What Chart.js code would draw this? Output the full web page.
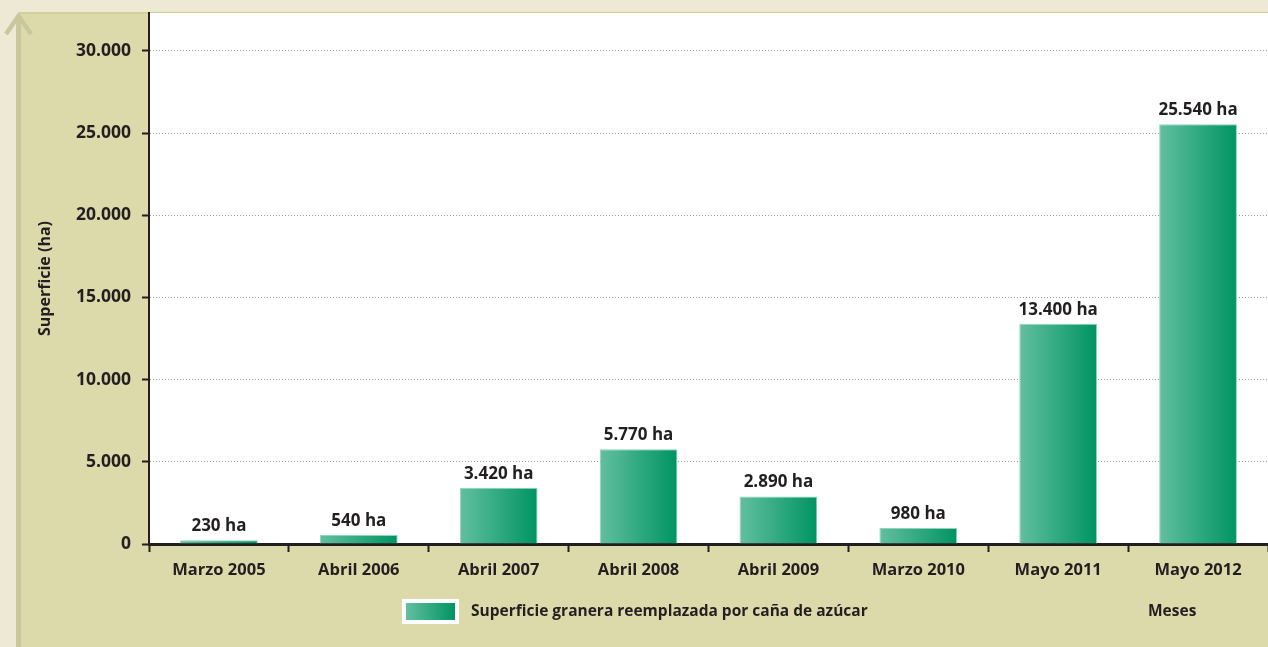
<!DOCTYPE html>
<html>
<head>
<meta charset="utf-8">
<script src="https://cdn.jsdelivr.net/npm/chart.js@4.4.0/dist/chart.umd.min.js"></script>
<style>
html,body{margin:0;padding:0;background:#eee9d5;}
canvas{display:block;}
</style>
</head>
<body>
<canvas id="c" width="1268" height="647"></canvas>
<script>
const categories = ["Marzo 2005","Abril 2006","Abril 2007","Abril 2008","Abril 2009","Marzo 2010","Mayo 2011","Mayo 2012"];
const values = [230, 540, 3420, 5770, 2890, 980, 13400, 25540];
const seriesLabel = "Superficie granera reemplazada por caña de azúcar";
const yTitle = "Superficie (ha)";
const xTitle = "Meses";
const yTickValues = [0, 5000, 10000, 15000, 20000, 25000, 30000];

const FONT = "'Open Sans', 'DejaVu Sans', sans-serif";
const TEXT = "#231f20";
const GL = "#62bf9f", GR = "#009462";

function fmt(v){ return String(v).replace(/\B(?=(\d{3})+(?!\d))/g, "."); }

const bgPlugin = {
  id: "bg",
  beforeDraw(chart){
    const ctx = chart.ctx, W = chart.width, H = chart.height, a = chart.chartArea;
    ctx.save();
    ctx.fillStyle = "#eee9d5";
    ctx.fillRect(0,0,W,H);
    ctx.fillStyle = "#dcd9ab";
    ctx.fillRect(19,13,W-19,H-13);
    ctx.fillStyle = "#d2cf9f";
    ctx.fillRect(19,12,W-19,2);
    ctx.fillStyle = "#ffffff";
    ctx.fillRect(a.left, a.top, a.right-a.left, a.bottom-a.top);
    ctx.strokeStyle = "#c9c79d";
    ctx.lineWidth = 5;
    ctx.beginPath();
    ctx.moveTo(18.5, 16); ctx.lineTo(18.5, H);
    ctx.stroke();
    ctx.lineWidth = 4.5;
    ctx.beginPath();
    ctx.moveTo(6, 34); ctx.lineTo(18.5, 16); ctx.lineTo(31, 34);
    ctx.stroke();
    ctx.restore();
  },
  afterDatasetsDraw(chart){
    const ctx = chart.ctx;
    const meta = chart.getDatasetMeta(0);
    ctx.save();
    ctx.font = "bold 17px " + FONT;
    ctx.fillStyle = TEXT;
    ctx.textAlign = "center";
    ctx.textBaseline = "alphabetic";
    meta.data.forEach((el, i) => {
      ctx.fillText(fmt(values[i]) + " ha", el.x, el.y - 9);
    });
    ctx.restore();
  },
  afterDraw(chart){
    const ctx = chart.ctx, a = chart.chartArea;
    ctx.save();
    ctx.font = "bold 16px " + FONT;
    ctx.fillStyle = TEXT;
    ctx.translate(45, (a.top + a.bottom) / 2);
    ctx.rotate(-Math.PI/2);
    ctx.textAlign = "center";
    ctx.textBaseline = "middle";
    ctx.fillText(yTitle, 0, 0);
    ctx.restore();
    ctx.save();
    ctx.fillStyle = "#ffffff";
    ctx.fillRect(402, 599, 57, 25);
    const g = ctx.createLinearGradient(406, 0, 455, 0);
    g.addColorStop(0, GL); g.addColorStop(1, GR);
    ctx.fillStyle = g;
    ctx.fillRect(406, 603, 49, 17);
    ctx.font = "bold 15.5px " + FONT;
    ctx.fillStyle = TEXT;
    ctx.textAlign = "left";
    ctx.textBaseline = "middle";
    ctx.fillText(seriesLabel, 471, 612);
    ctx.fillText(xTitle, 1148, 612);
    ctx.restore();
  }
};

new Chart(document.getElementById("c"), {
  type: "bar",
  data: {
    labels: categories,
    datasets: [{
      label: seriesLabel,
      data: values,
      backgroundColor: (c) => {
        const chart = c.chart;
        const xs = chart.scales && chart.scales.x;
        if (!xs || !chart.chartArea || c.dataIndex === undefined) return GR;
        const cx = xs.getPixelForValue(c.dataIndex);
        const w = xs.width / categories.length * 0.556;
        const g = chart.ctx.createLinearGradient(cx - w/2, 0, cx + w/2, 0);
        g.addColorStop(0, GL); g.addColorStop(1, GR);
        return g;
      },
      borderColor: "#8fd3b8",
      borderWidth: {left:1, right:1, top:1, bottom:0},
      borderSkipped: "bottom",
      categoryPercentage: 1,
      barPercentage: 0.556
    }]
  },
  plugins: [bgPlugin],
  options: {
    responsive: false,
    animation: false,
    devicePixelRatio: 1,
    layout: { padding: { left: 0, right: 0, top: 13, bottom: 0 } },
    plugins: { legend: { display: false }, tooltip: { enabled: false } },
    scales: {
      x: {
        offset: true,
        afterFit(s){ s.height = 103; s.paddingLeft = 0; s.paddingRight = 0; },
        grid: { display: true, drawOnChartArea: false, offset: true, drawTicks: true, tickLength: 8, tickColor: TEXT, tickWidth: 2 },
        border: { display: true, color: TEXT, width: 3 },
        ticks: { color: TEXT, font: { family: FONT, size: 16.5, weight: "bold" }, padding: 8, maxRotation: 0 }
      },
      y: {
        min: 0,
        max: 32300,
        afterFit(s){ s.width = 149; s.paddingTop = 0; s.paddingBottom = 0; },
        afterBuildTicks(s){ s.ticks = yTickValues.map(v => ({ value: v })); },
        grid: { color: (c) => c.tick && c.tick.value === 0 ? "rgba(0,0,0,0)" : "#999999", lineWidth: 1, drawTicks: true, tickLength: 7, tickColor: TEXT, tickWidth: 2, tickBorderDash: [] },
        border: { display: true, color: TEXT, width: 2, dash: [1, 2] },
        ticks: { color: TEXT, font: { family: FONT, size: 17.5, weight: "bold" }, padding: 11, callback: (v) => fmt(v) }
      }
    }
  }
});
</script>
</body>
</html>
